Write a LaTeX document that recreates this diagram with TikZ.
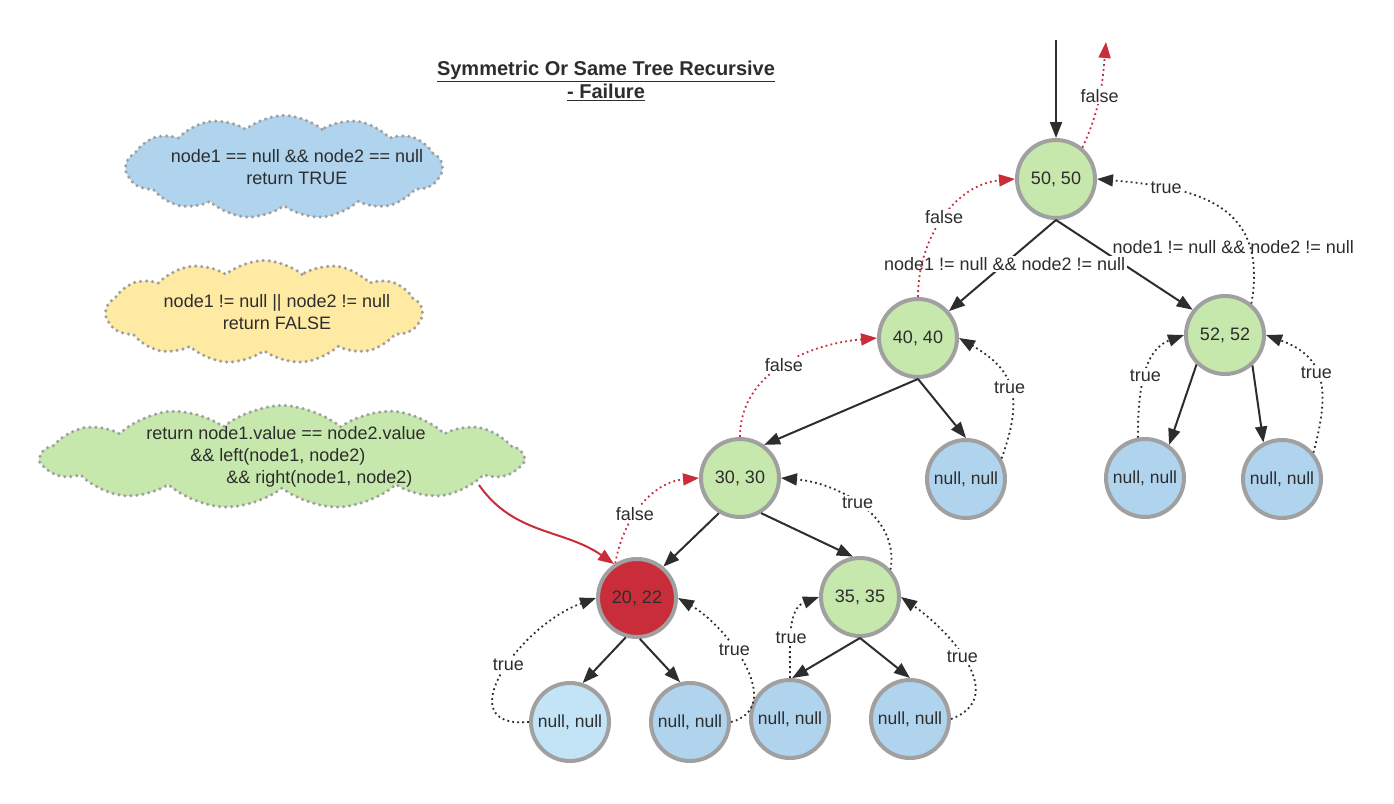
\documentclass[tikz,border=0pt]{standalone}
\usepackage{fontspec}
\setmainfont{Liberation Sans}
\definecolor{LeafGreen}{RGB}{199,232,172}
\definecolor{NullBlue}{RGB}{176,211,238}
\definecolor{PaleBlue}{RGB}{194,228,246}
\definecolor{FailRed}{RGB}{201,45,57}
\definecolor{CloudYellow}{RGB}{255,234,164}
\definecolor{RimGray}{RGB}{160,160,160}
\definecolor{InkGray}{RGB}{45,45,45}
\usepackage{tikz}
\usetikzlibrary{shapes, arrows.meta, positioning}

\begin{document}
\begin{tikzpicture}[x=1pt, y=-1pt, font=\fontsize{18}{22}\selectfont, text=InkGray,
    tnode/.style={circle, draw=RimGray, line width=4pt, minimum size=78pt, inner sep=0pt},
    valnode/.style={tnode, fill=LeafGreen},
    nullnode/.style={tnode, fill=NullBlue, font=\fontsize{17.5}{22}\selectfont},
    cloudbox/.style={cloud, cloud puffs=13, cloud puff arc=80, cloud ignores aspect, draw=RimGray, line width=3.5pt, dash pattern=on 0pt off 6pt, line cap=round, inner sep=0pt},
    link/.style={line width=2pt, draw=InkGray, -{Triangle[length=16pt,width=12pt]}},
    failarrow/.style={link, draw=FailRed},
    truearrow/.style={line width=1.8pt, draw=InkGray, dash pattern=on 1.8pt off 3.2pt, -{Triangle[length=16pt,width=12pt]}},
    falsearrow/.style={truearrow, draw=FailRed},
    lbl/.style={fill=white, inner sep=1.5pt}]
    \useasboundingbox (0,0) rectangle (1394,803);

    \node[font=\fontsize{20}{23}\selectfont\bfseries, align=center] (title) at (606,81) {\underline{Symmetric Or Same Tree Recursive}\\\underline{- Failure}};

    % the three rules
    \node[cloudbox, fill=NullBlue, minimum width=316pt, minimum height=103pt,
        label={[align=center, xshift=13pt]center:{node1 == null \&\& node2 == null\\return TRUE}}] (ctrue) at (284,167) {};
    \node[cloudbox, fill=CloudYellow, minimum width=316pt, minimum height=103pt,
        label={[align=center, xshift=13pt]center:{node1 != null || node2 != null\\return FALSE}}] (cfalse) at (264,312) {};
    \node[cloudbox, fill=LeafGreen, minimum width=481pt, minimum height=103pt,
        label={[align=left, xshift=4pt]center:{return node1.value == node2.value\\\hspace*{44pt}\&\& left(node1, node2)\\\hspace*{80pt}\&\& right(node1, node2)}}] (cvalue) at (282,457) {};
    \coordinate (cloudtail) at (479,485);

    % the tree
    \node[valnode] (n5050) at (1056,179) {50, 50};
    \node[valnode] (n4040) at (918,338) {40, 40};
    \node[valnode] (n5252) at (1225,335) {52, 52};
    \node[valnode] (n3030) at (740,478) {30, 30};
    \node[nullnode] (nul40) at (966,479) {null, null};
    \node[nullnode] (nul52a) at (1145,478) {null, null};
    \node[nullnode] (nul52b) at (1282,479) {null, null};
    \node[tnode, fill=FailRed] (n2022) at (637,598) {20, 22};
    \node[valnode] (n3535) at (860,597) {35, 35};
    \node[nullnode, fill=PaleBlue] (nul20a) at (570,722) {null, null};
    \node[nullnode] (nul20b) at (690,722) {null, null};
    \node[nullnode] (nul35a) at (790,719) {null, null};
    \node[nullnode] (nul35b) at (910,719) {null, null};
    \coordinate (entry) at (1056,40);
    \coordinate (fexit) at (1106,42);

    \draw [link] (entry) -- (n5050.north);
    \draw [link] (n5050.south) -- (n5252.142);
    \draw [link] (n5050.south) -- (n4040.41) node[lbl, pos=0.48] {node1 != null \&\& node2 != null};
    \path (n5050.south) -- (n5252.142) node[lbl, pos=0.3, anchor=west, xshift=14pt] {node1 != null \&\& node2 != null};
    \draw [link] (n4040.south) -- (n3030.54);
    \draw [link] (n4040.south) -- (nul40.north);
    \draw [link] (n5252.226) -- (nul52a.54);
    \draw [link] (n5252.312) -- (nul52b.117);
    \draw [link] (n3030.239) -- (n2022.50);
    \draw [link] (n3030.301) -- (n3535.100);
    \draw [link] (n2022.254) -- (nul20a.72);
    \draw [link] (n2022.274) -- (nul20b.104);
    \draw [link] (n3535.south) -- (nul35a.87);
    \draw [link] (n3535.south) -- (nul35b.north);

    \draw [failarrow] (cloudtail) to[out=-55,in=145] (n2022.124);

    \draw [falsearrow] (n5050.50) to[out=65,in=-95] node[lbl] {false} (fexit);
    \draw [falsearrow] (n4040.north) to[out=90,in=185] node[lbl] {false} (n5050.west);
    \draw [falsearrow] (n3030.north) to[out=90,in=185] node[lbl] {false} (n4040.west);
    \draw [falsearrow] (n2022.122) to[out=80,in=185] node[lbl, pos=0.4] {false} (n3030.west);

    \draw [truearrow] (n5252.50) to[out=80,in=-5,looseness=1.3] node[lbl, pos=0.75] {true} (n5050.east);
    \draw [truearrow] (nul40.30) to[out=70,in=-30,looseness=1.3] node[lbl] {true} (n4040.east);
    \draw [truearrow] (nul52a.100) to[out=90,in=200] node[lbl] {true} (n5252.west);
    \draw [truearrow] (nul52b.40) to[out=75,in=-20,looseness=1.3] node[lbl, pos=0.55] {true} (n5252.east);
    \draw [truearrow] (n3535.42) to[out=80,in=-5] node[lbl, pos=0.52] {true} (n3030.east);
    \draw [truearrow] (nul20a.west) to[out=185,in=200,looseness=1.5] node[lbl, pos=0.55] {true} (n2022.west);
    \draw [truearrow] (nul20b.east) to[out=15,in=-30,looseness=1.1] node[lbl, pos=0.6] {true} (n2022.east);
    \draw [truearrow] (nul35a.north) to[out=90,in=200] node[lbl, pos=0.4] {true} (n3535.west);
    \draw [truearrow] (nul35b.east) to[out=20,in=-35,looseness=1.2] node[lbl, pos=0.55] {true} (n3535.east);
\end{tikzpicture}
\end{document}
